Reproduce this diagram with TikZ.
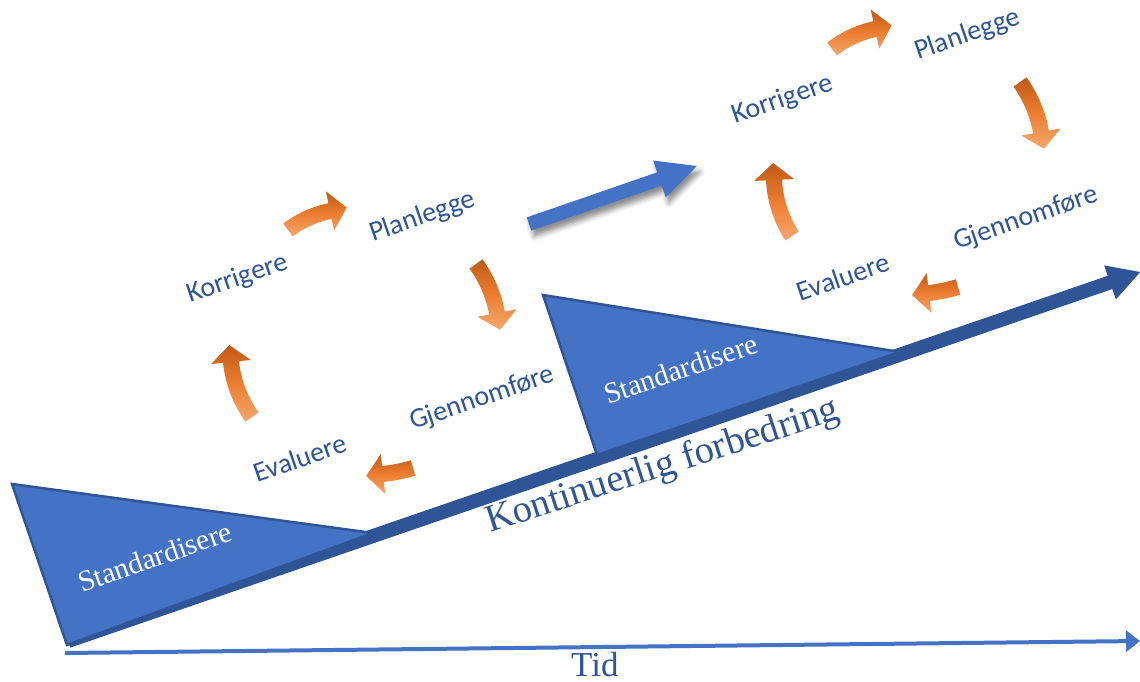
\documentclass[tikz,border=0pt]{standalone}
\usepackage{fontspec}
\setmainfont{Liberation Serif}
\newfontfamily\cyclefont{Carlito}
\usetikzlibrary{arrows.meta,shadows.blur}

\definecolor{accentblue}{HTML}{4472C4}
\definecolor{deepblue}{HTML}{2F5597}
\definecolor{textblue}{HTML}{2F5597}
\definecolor{orDark}{HTML}{BF5A16}
\definecolor{orMid}{HTML}{ED7D31}
\definecolor{orLight}{HTML}{F4A86E}

\tikzset{
  cyclelabel/.style={font=\cyclefont\fontsize{28}{34}\selectfont, text=textblue,
    rotate=19, anchor=base west, inner sep=0pt},
  stdlabel/.style={font=\fontsize{29.5}{35}\selectfont, text=white,
    rotate=19.3, anchor=base west, inner sep=0pt},
  stdwedge/.style={fill=accentblue, draw=deepblue, line width=2.5pt, line join=miter},
  orangefill/.style={top color=orDark, bottom color=orLight, middle color=orMid},
}

% curved block arrow of the PDCA cycle
% #1,#2 tail centre, #3,#4 centre of the head base (x right, y down),
% #5 turning angle in degrees (negative = clockwise)
\def\cashw{8}   % half shaft width
\def\cahhw{20}  % half head width
\def\cahlen{17} % head length
\newcommand\cyclearrow[5]{%
  \pgfmathsetmacro\caAx{#1}\pgfmathsetmacro\caAy{-(#2)}%
  \pgfmathsetmacro\caBx{#3}\pgfmathsetmacro\caBy{-(#4)}%
  \pgfmathsetmacro\caChord{veclen(\caBx-\caAx,\caBy-\caAy)}%
  \pgfmathsetmacro\caDir{atan2(\caBy-\caAy,\caBx-\caAx)}%
  \pgfmathsetmacro\caRad{\caChord/(2*sin((#5)/2))}%
  \pgfmathsetmacro\caStart{\caDir-(#5)/2-90}%
  \pgfmathsetmacro\caEnd{\caStart+(#5)}%
  \pgfmathsetmacro\caCx{\caAx-\caRad*cos(\caStart)}%
  \pgfmathsetmacro\caCy{\caAy-\caRad*sin(\caStart)}%
  \pgfmathsetmacro\caTip{\caDir+(#5)/2}%
  \shade[orangefill]
    plot[domain=\caStart:\caEnd, samples=16]
      ({\caCx+(\caRad+\cashw)*cos(\x)},{\caCy+(\caRad+\cashw)*sin(\x)})
    -- ({\caBx+\cahhw*cos(\caEnd)},{\caBy+\cahhw*sin(\caEnd)})
    -- ({\caBx+\cahlen*cos(\caTip)},{\caBy+\cahlen*sin(\caTip)})
    -- ({\caBx-\cahhw*cos(\caEnd)},{\caBy-\cahhw*sin(\caEnd)})
    -- plot[domain=\caEnd:\caStart, samples=16]
      ({\caCx+(\caRad-\cashw)*cos(\x)},{\caCy+(\caRad-\cashw)*sin(\x)})
    -- cycle;
}

\begin{document}
\begin{tikzpicture}[x=1pt,y=1pt]
\useasboundingbox (0,0) rectangle (1140,-682);

% time axis
\coordinate (tid0) at (65,-653);
\coordinate (tid1) at (1140,-641);
\draw[accentblue, line width=4pt, -{Triangle[length=14pt,width=21pt]}] (tid0) -- (tid1);
\node[font=\fontsize{35}{40}\selectfont, text=textblue, anchor=base west, inner sep=0pt]
  (tid) at (571,-676) {Tid};

% rising arrow of continuous improvement
\coordinate (kf0) at (68,-641);
\coordinate (kf1) at (1140,-272);
\begin{scope}[shift={(kf0)}, rotate=18.99]
  \fill[deepblue] (0,-7) -- (1102,-7) -- (1102,-18) -- (1134,0)
    -- (1102,18) -- (1102,7) -- (0,7) -- cycle;
\end{scope}

% standardisation wedges
\draw[stdwedge] (12,-484) -- (373,-533) -- (67,-645) -- cycle;
\draw[stdwedge] (543,-295) -- (900,-352) -- (597,-455) -- cycle;
\node[stdlabel] (std1) at (82,-593) {Standardisere};
\node[stdlabel] (std2) at (608,-405) {Standardisere};

\node[font=\fontsize{38.5}{44}\selectfont, text=textblue, rotate=18,
  anchor=base west, inner sep=0pt] (kf) at (490,-533) {Kontinuerlig forbedring};

% step up to the next cycle
\begin{scope}[shift={(529,-224)}, rotate=19.05]
  \fill[accentblue, blur shadow={shadow xshift=3pt, shadow yshift=-6pt,
      shadow blur radius=5pt, shadow opacity=45}]
    (0,-7) -- (138,-7) -- (138,-19.5) -- (177.7,0) -- (138,19.5) -- (138,7) -- (0,7) -- cycle;
\end{scope}

% first cycle
\node[cyclelabel] (k1) at (190,-303) {Korrigere};
\node[cyclelabel] (p1) at (373,-242) {Planlegge};
\node[cyclelabel] (g1) at (413,-430) {Gjennomføre};
\node[cyclelabel] (e1) at (257,-483) {Evaluere};
\cyclearrow{288}{230}{330}{211}{-25}
\cyclearrow{476}{264}{497}{313}{-25}
\cyclearrow{413}{468}{383}{474}{-10}
\cyclearrow{252}{417}{231}{362}{-30}

% second cycle
\node[cyclelabel] (k2) at (735,-124) {Korrigere};
\node[cyclelabel] (p2) at (918,-60) {Planlegge};
\node[cyclelabel] (g2) at (957,-250) {Gjennomføre};
\node[cyclelabel] (e2) at (800,-302) {Evaluere};
\cyclearrow{832}{49}{875}{29}{-25}
\cyclearrow{1020}{82}{1041}{132}{-25}
\cyclearrow{958}{287}{929}{293}{-10}
\cyclearrow{792}{236}{774}{180}{-30}
\end{tikzpicture}
\end{document}
